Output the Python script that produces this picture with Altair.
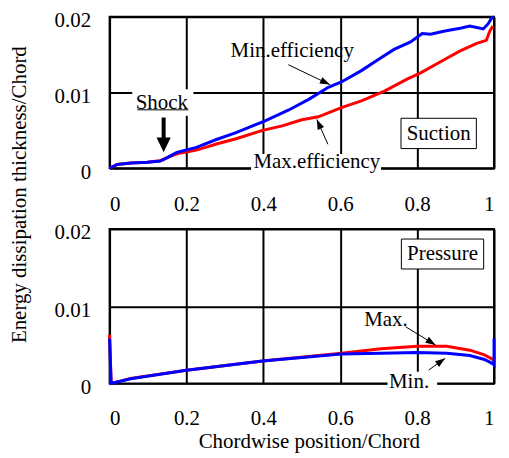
import math
import altair as alt
import pandas as pd

# ---------------- data ----------------
# Suction side (top panel)
suc_min_x = [0, 0.02, 0.055, 0.098, 0.132, 0.15, 0.175, 0.226, 0.278, 0.329, 0.372, 0.406, 0.466,
             0.518, 0.569, 0.603, 0.655, 0.697, 0.740, 0.783, 0.813, 0.835, 0.869, 0.89, 0.912,
             0.937, 0.972, 0.985, 0.993, 1.0]
suc_min_y = [0, 0.0005, 0.0007, 0.0008, 0.00096, 0.0014, 0.0021, 0.00276, 0.0038, 0.0047, 0.0056,
             0.0063, 0.0077, 0.0091, 0.0107, 0.0114, 0.0129, 0.0143, 0.0157, 0.0167, 0.0178,
             0.0177, 0.0181, 0.0183, 0.0185, 0.0188, 0.0184, 0.0191, 0.0198, 0.0200]
suc_max_x = [0, 0.02, 0.055, 0.098, 0.132, 0.15, 0.175, 0.226, 0.278, 0.329, 0.398, 0.449, 0.5,
             0.543, 0.603, 0.655, 0.715, 0.775, 0.809, 0.869, 0.912, 0.955, 0.980, 0.989, 0.997]
suc_max_y = [0, 0.0005, 0.0007, 0.0008, 0.001, 0.0014, 0.0019, 0.0024, 0.0032, 0.0039, 0.005,
             0.0056, 0.0064, 0.0068, 0.008, 0.0089, 0.0102, 0.0118, 0.0126, 0.0143, 0.0155,
             0.0165, 0.0169, 0.0181, 0.0188]
# Pressure side (bottom panel)
pre_max_x = [0, 0.004, 0.055, 0.2, 0.398, 0.603, 0.706, 0.8, 0.877, 0.937, 0.975, 0.997, 1.0]
pre_max_y = [0.0063, 0.0, 0.00065, 0.0017, 0.0029, 0.0039, 0.0045, 0.0048, 0.0048, 0.0043,
             0.0037, 0.0031, 0.0028]
pre_min_x = [0, 0.004, 0.055, 0.2, 0.398, 0.603, 0.706, 0.8, 0.877, 0.937, 0.975, 0.995, 1.0, 1.0]
pre_min_y = [0.0058, 0.0, 0.0006, 0.0017, 0.0029, 0.0038, 0.0039, 0.004, 0.0039, 0.0036,
             0.0031, 0.0026, 0.0024, 0.0058]

x_ticks = [0, 0.2, 0.4, 0.6, 0.8, 1.0]
y_ticks = [0, 0.01, 0.02]

FONT = "Liberation Serif"
W = 386
H_TOP = 152
H_BOT = 155
RED = "#ff0000"
BLUE = "#0000ff"


def line_df(xs, ys):
    return pd.DataFrame({"x": xs, "y": ys, "i": list(range(len(xs)))})


def make_line(xs, ys, color):
    return alt.Chart(line_df(xs, ys)).mark_line(color=color, strokeWidth=3).encode(
        x="x:Q", y="y:Q", order="i:Q")


def arrows(rows, h, width):
    ypx = h / 0.02
    recs = []
    for x1, y1, x2, y2 in rows:
        ang = math.degrees(math.atan2((x2 - x1) * W, (y2 - y1) * ypx)) % 360
        recs.append({"x1": x1, "y1": y1, "x2": x2, "y2": y2, "ang": ang})
    df = pd.DataFrame(recs)
    shaft = alt.Chart(df).mark_rule(color="black", strokeWidth=width).encode(
        x="x1:Q", y="y1:Q", x2="x2:Q", y2="y2:Q")
    return shaft, df


def heads(df, size, shape):
    return alt.Chart(df).mark_point(shape=shape, filled=True, color="black", opacity=1,
                                    size=size, strokeWidth=0).encode(
        x="x2:Q", y="y2:Q", angle=alt.Angle("ang:Q", scale=None))


def texts(df):
    return alt.Chart(df).mark_text(font=FONT, fontSize=21, color="black", baseline="middle",
                                   align="center").encode(x="x:Q", y="y:Q", text="t:N")


def white_rects(df, stroke=False):
    kw = dict(fill="white", opacity=1)
    if stroke:
        kw.update(stroke="black", strokeWidth=1)
    else:
        kw.update(strokeWidth=0)
    return alt.Chart(df).mark_rect(**kw).encode(x="x:Q", x2="x2:Q", y="y:Q", y2="y2:Q")


HEAD = "M0,0 L-0.7,2 L0.7,2 Z"
BIGHEAD = "M0,0 L-0.95,2 L0.95,2 Z"

xscale = alt.Scale(domain=[0, 1], nice=False)
yscale = alt.Scale(domain=[0, 0.02], nice=False)

# ---------------- top panel (suction) ----------------
top_x_axis = alt.Axis(values=x_ticks, title=None, format="~g", labelPadding=25)
top_y_axis = alt.Axis(values=y_ticks, format="~g", title="Energy dissipation thickness/Chord",
                      titleX=-80, titleY=178, titleFontSize=21, titleFont=FONT,
                      titleFontWeight="normal", titleColor="black")

top_base = alt.Chart(line_df(suc_max_x, suc_max_y)).mark_line(color=RED, strokeWidth=3).encode(
    x=alt.X("x:Q", scale=xscale, axis=top_x_axis),
    y=alt.Y("y:Q", scale=yscale, axis=top_y_axis),
    order="i:Q")

top_knock = pd.DataFrame({"x": [0.368, 0.059], "x2": [0.706, 0.218],
                          "y": [0.00188, 0.01043], "y2": [-0.0003, 0.00693]})
top_box = pd.DataFrame({"x": [0.758], "x2": [0.954], "y": [0.0066], "y2": [0.0026]})
top_text = pd.DataFrame({"x": [0.475, 0.539, 0.136, 0.856],
                         "y": [0.01553, 0.00079, 0.00868, 0.00457],
                         "t": ["Min.efficiency", "Max.efficiency", "Shock", "Suction"]})
top_arrow_shaft, top_arrow_df = arrows([(0.465, 0.01368, 0.573, 0.01105),
                                        (0.568, 0.00316, 0.539, 0.00645)], H_TOP, 1)
_, shock_df = arrows([(0.1406, 0.0067, 0.1406, 0.0021)], H_TOP, 4)
shock_shaft = alt.Chart(pd.DataFrame({"x1": [0.1406], "y1": [0.0067], "x2": [0.1406],
                                      "y2": [0.0035]})).mark_rule(
    color="black", strokeWidth=4).encode(x="x1:Q", y="y1:Q", x2="x2:Q", y2="y2:Q")
underline = alt.Chart(pd.DataFrame({"x1": [0.072], "x2": [0.205], "y1": [0.00772]})).mark_rule(
    color="black", strokeWidth=1).encode(x="x1:Q", x2="x2:Q", y="y1:Q")

top = alt.layer(
    top_base,
    make_line(suc_min_x, suc_min_y, BLUE),
    white_rects(top_knock),
    white_rects(top_box, stroke=True),
    top_arrow_shaft, heads(top_arrow_df, 100, HEAD),
    shock_shaft, heads(shock_df, 225, BIGHEAD),
    underline,
    texts(top_text),
).properties(width=W, height=H_TOP)

# ---------------- bottom panel (pressure) ----------------
bot_x_axis = alt.Axis(values=x_ticks, format="~g", title="Chordwise position/Chord",
                      titleFontSize=21, titleFont=FONT, titleFontWeight="normal",
                      titleColor="black", titleY=47, titleX=200, titleBaseline="top",
                      labelPadding=24)
bot_y_axis = alt.Axis(values=y_ticks, format="~g", title=None)

bot_base = alt.Chart(line_df(pre_max_x, pre_max_y)).mark_line(color=RED, strokeWidth=3).encode(
    x=alt.X("x:Q", scale=xscale, axis=bot_x_axis),
    y=alt.Y("y:Q", scale=yscale, axis=bot_y_axis),
    order="i:Q")

bot_knock = pd.DataFrame({"x": [0.723], "x2": [0.852], "y": [0.00152], "y2": [-0.00107]})
bot_box = pd.DataFrame({"x": [0.759], "x2": [0.973], "y": [0.0187], "y2": [0.01482]})
bot_text = pd.DataFrame({"x": [0.719, 0.779, 0.866], "y": [0.00821, 0.00022, 0.01676],
                         "t": ["Max.", "Min.", "Pressure"]})
bot_arrow_shaft, bot_arrow_df = arrows([(0.770, 0.00734, 0.848, 0.00497),
                                        (0.830, 0.00173, 0.873, 0.00324)], H_BOT, 1)

bottom = alt.layer(
    bot_base,
    make_line(pre_min_x, pre_min_y, BLUE),
    white_rects(bot_knock),
    white_rects(bot_box, stroke=True),
    bot_arrow_shaft, heads(bot_arrow_df, 100, HEAD),
    texts(bot_text),
).properties(width=W, height=H_BOT)

chart = alt.vconcat(top, bottom, spacing=61, bounds="flush").properties(
    padding=0
).configure_view(
    stroke="black", strokeWidth=2
).configure_axis(
    grid=True, gridColor="black", gridWidth=2, gridOpacity=1,
    domain=False, ticks=False,
    labelFont=FONT, labelFontSize=21, labelColor="black",
).configure_axisY(
    labelPadding=19, labelOffset=4
)

chart.save("out.html", embed_options={"renderer": "svg", "actions": False})
